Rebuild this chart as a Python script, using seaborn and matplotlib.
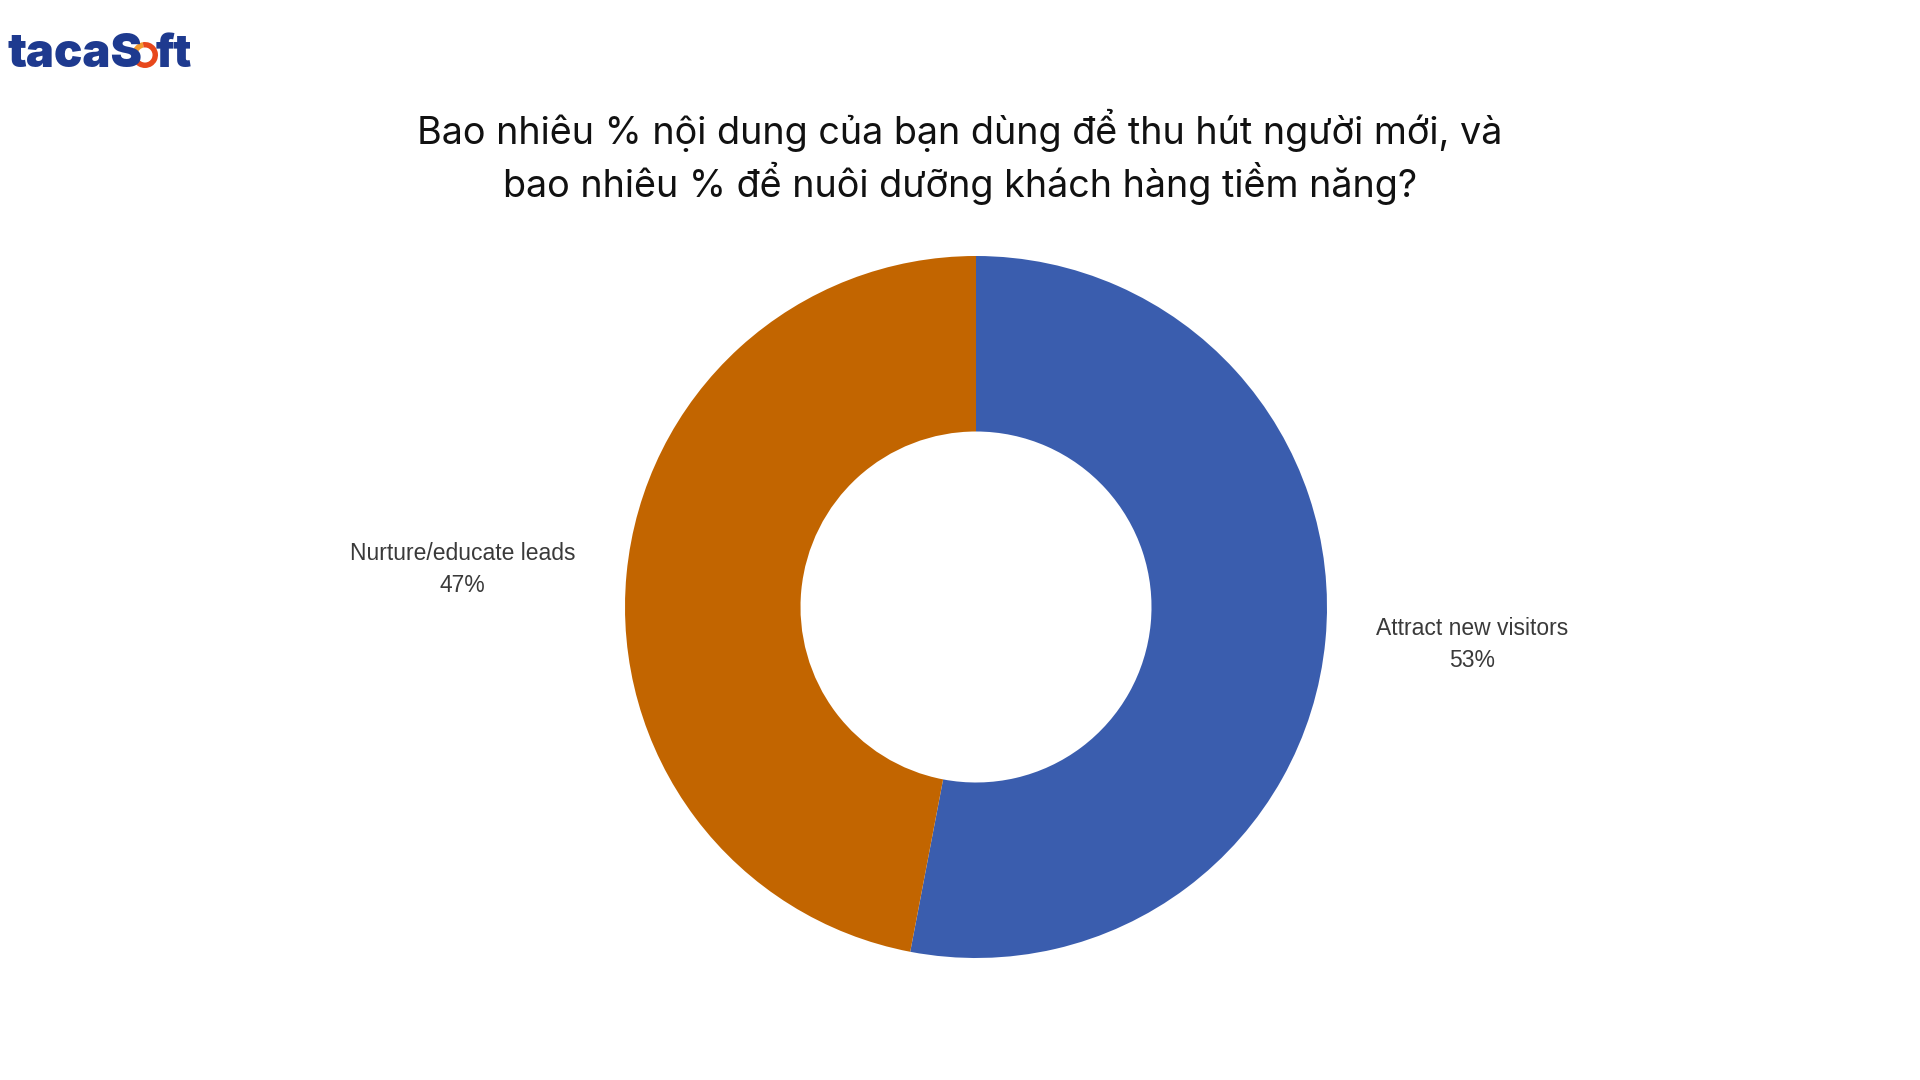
import numpy as np
import pandas as pd
import matplotlib
matplotlib.use("Agg")
import matplotlib.pyplot as plt
import seaborn as sns

# data
categories = ["Attract new visitors", "Nurture/educate leads"]
shares = [53, 47]
colors = ["#3A5DAE", "#C26500"]
title = "Bao nhiêu % nội dung của bạn dùng để thu hút người mới, và\nbao nhiêu % để nuôi dưỡng khách hàng tiềm năng?"

sns.set_theme(style="white")
plt.rcParams['font.family'] = ['Inter', 'DejaVu Sans']

W, H = 1920, 1080
fig = plt.figure(figsize=(19.2, 10.8), dpi=100)
fig.patch.set_facecolor("white")

# donut axes: centre (976, 607) px, radius 351 px
cx, cy, r = 976, 607, 351
ax = fig.add_axes([(cx - r) / W, (H - cy - r) / H, 2 * r / W, 2 * r / H])
df = pd.DataFrame({"cat": categories, "share": shares})
labels = [f"{c}\n{s}%" for c, s in zip(df["cat"], df["share"])]
wedges, texts = ax.pie(df["share"], labels=labels, colors=colors, startangle=90,
                       counterclock=False, radius=1.0, labeldistance=1.44,
                       wedgeprops=dict(width=0.5, linewidth=0),
                       textprops=dict(fontsize=16.5, color="#3a3a3a",
                                      family=['Liberation Sans', 'DejaVu Sans'],
                                      linespacing=1.5))
# labels sit a little off the radial line in the original
label_pos = [(1.413, -0.108), (-1.462, 0.108)]
for t, p in zip(texts, label_pos):
    t.set_position(p)
    t.set_ha("center")
    t.set_va("center")
ax.set_xlim(-1, 1)
ax.set_ylim(-1, 1)
ax.set_aspect("equal")
ax.axis("off")

# title
fig.text(0.5, 1 - 157 / H, title, ha="center", va="center", fontsize=27.2,
         color="#111111", linespacing=1.28)

# logo
navy = "#1E3A8F"
fig.text(8 / W, 1 - 67 / H, "tacaS", ha="left", va="baseline", fontsize=34,
         fontweight="black", color=navy)
fig.text(156 / W, 1 - 67 / H, "ft", ha="left", va="baseline", fontsize=32,
         fontweight="black", color=navy)
lax = fig.add_axes([(145 - 13) / W, (H - 55 - 13) / H, 26 / W, 26 / H])
lax.pie([30, 70], colors=["#F39A2E", "#E8481C"], startangle=100, counterclock=True,
        wedgeprops=dict(width=0.42, linewidth=0))
lax.set_xlim(-1, 1)
lax.set_ylim(-1, 1)
lax.axis("off")

fig.savefig("out.png", dpi=100)
